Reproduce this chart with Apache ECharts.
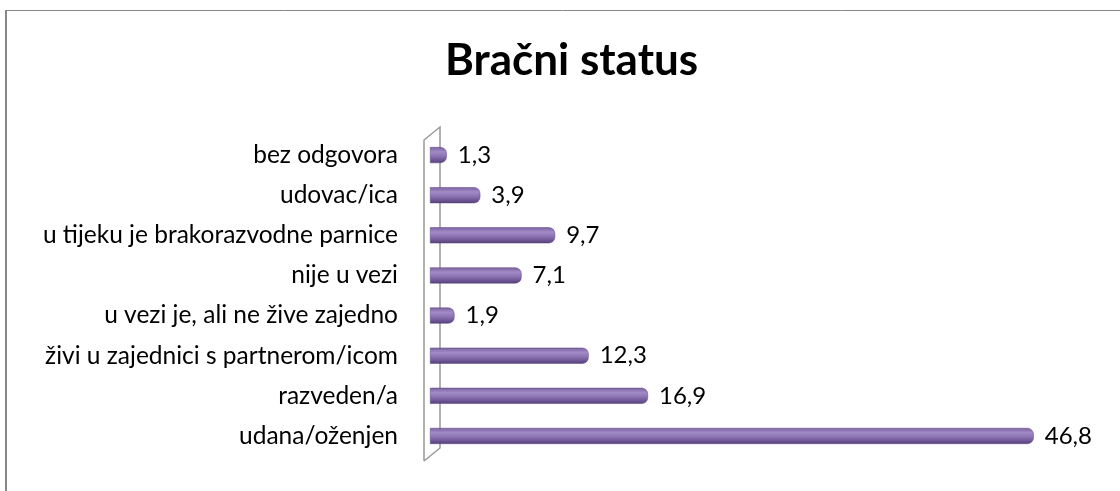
<!DOCTYPE html>
<html>
<head>
<meta charset="utf-8">
<script src="https://cdn.jsdelivr.net/npm/echarts@6/dist/echarts.min.js"></script>
<style>
  html, body { margin: 0; padding: 0; background: #fff; }
  #chart { width: 1120px; height: 491px; }
</style>
</head>
<body>
<div id="chart"></div>
<script>
// bottom to top, as echarts draws a category y axis
let categories = [
  'udana/oženjen',
  'razveden/a',
  'živi u zajednici s partnerom/icom',
  'u vezi je, ali ne žive zajedno',
  'nije u vezi',
  'u tijeku je brakorazvodne parnice',
  'udovac/ica',
  'bez odgovora'
];
let values = [46.8, 16.9, 12.3, 1.9, 7.1, 9.7, 3.9, 1.3];

let chart = echarts.init(document.getElementById('chart'));

let barColor = new echarts.graphic.LinearGradient(0, 0, 0, 1, [
  {offset: 0, color: '#7a609e'},
  {offset: 0.3, color: '#a18bc6'},
  {offset: 0.6, color: '#8a6fb0'},
  {offset: 1, color: '#553f7a'}
]);

let options = {
  animation: false,
  title: {
    text: 'Bračni status',
    left: 440,
    top: 34,
    textStyle: {
      fontFamily: 'Lato',
      fontWeight: 'bold',
      fontSize: 44,
      color: '#000'
    }
  },
  grid: {
    left: 430,
    right: 45,
    top: 135,
    bottom: 35
  },
  xAxis: {
    type: 'value',
    min: 0,
    max: 50,
    show: false
  },
  yAxis: {
    type: 'category',
    data: categories,
    axisLine: {show: false},
    axisTick: {show: false},
    axisLabel: {
      margin: 32,
      fontFamily: 'Lato',
      fontSize: 24.5,
      color: '#000'
    }
  },
  series: [
    {
      type: 'bar',
      data: values,
      barWidth: 16,
      itemStyle: {
        color: barColor,
        borderRadius: [0, 6, 6, 0],
        borderColor: '#5a4480',
        borderWidth: 0.5
      },
      label: {
        show: true,
        position: 'right',
        distance: 11,
        fontFamily: 'Lato',
        fontSize: 24,
        color: '#000',
        formatter: p => String(p.value).replace('.', ',')
      }
    }
  ]
};

chart.setOption(options);

// frame and the 3d axis wall, placed from the grid's own coordinates
let x0 = chart.convertToPixel({xAxisIndex: 0}, 0);
let yTop = 135, yBot = 491 - 35;
chart.setOption({
  graphic: [
    {type: 'line', shape: {x1: 5, y1: 10.5, x2: 1120, y2: 10.5}, style: {stroke: '#888', lineWidth: 1}},
    {type: 'line', shape: {x1: 6, y1: 10, x2: 6, y2: 491}, style: {stroke: '#888', lineWidth: 2}},
    {type: 'polyline', z: -1, shape: {points: [
      [x0 - 6, yBot + 5], [x0 - 6, yTop + 5], [x0 + 10, yTop - 8], [x0 + 10, yBot - 8], [x0 - 6, yBot + 5]
    ]}, style: {stroke: '#999', lineWidth: 1.5, fill: 'none'}}
  ]
});
</script>
</body>
</html>
